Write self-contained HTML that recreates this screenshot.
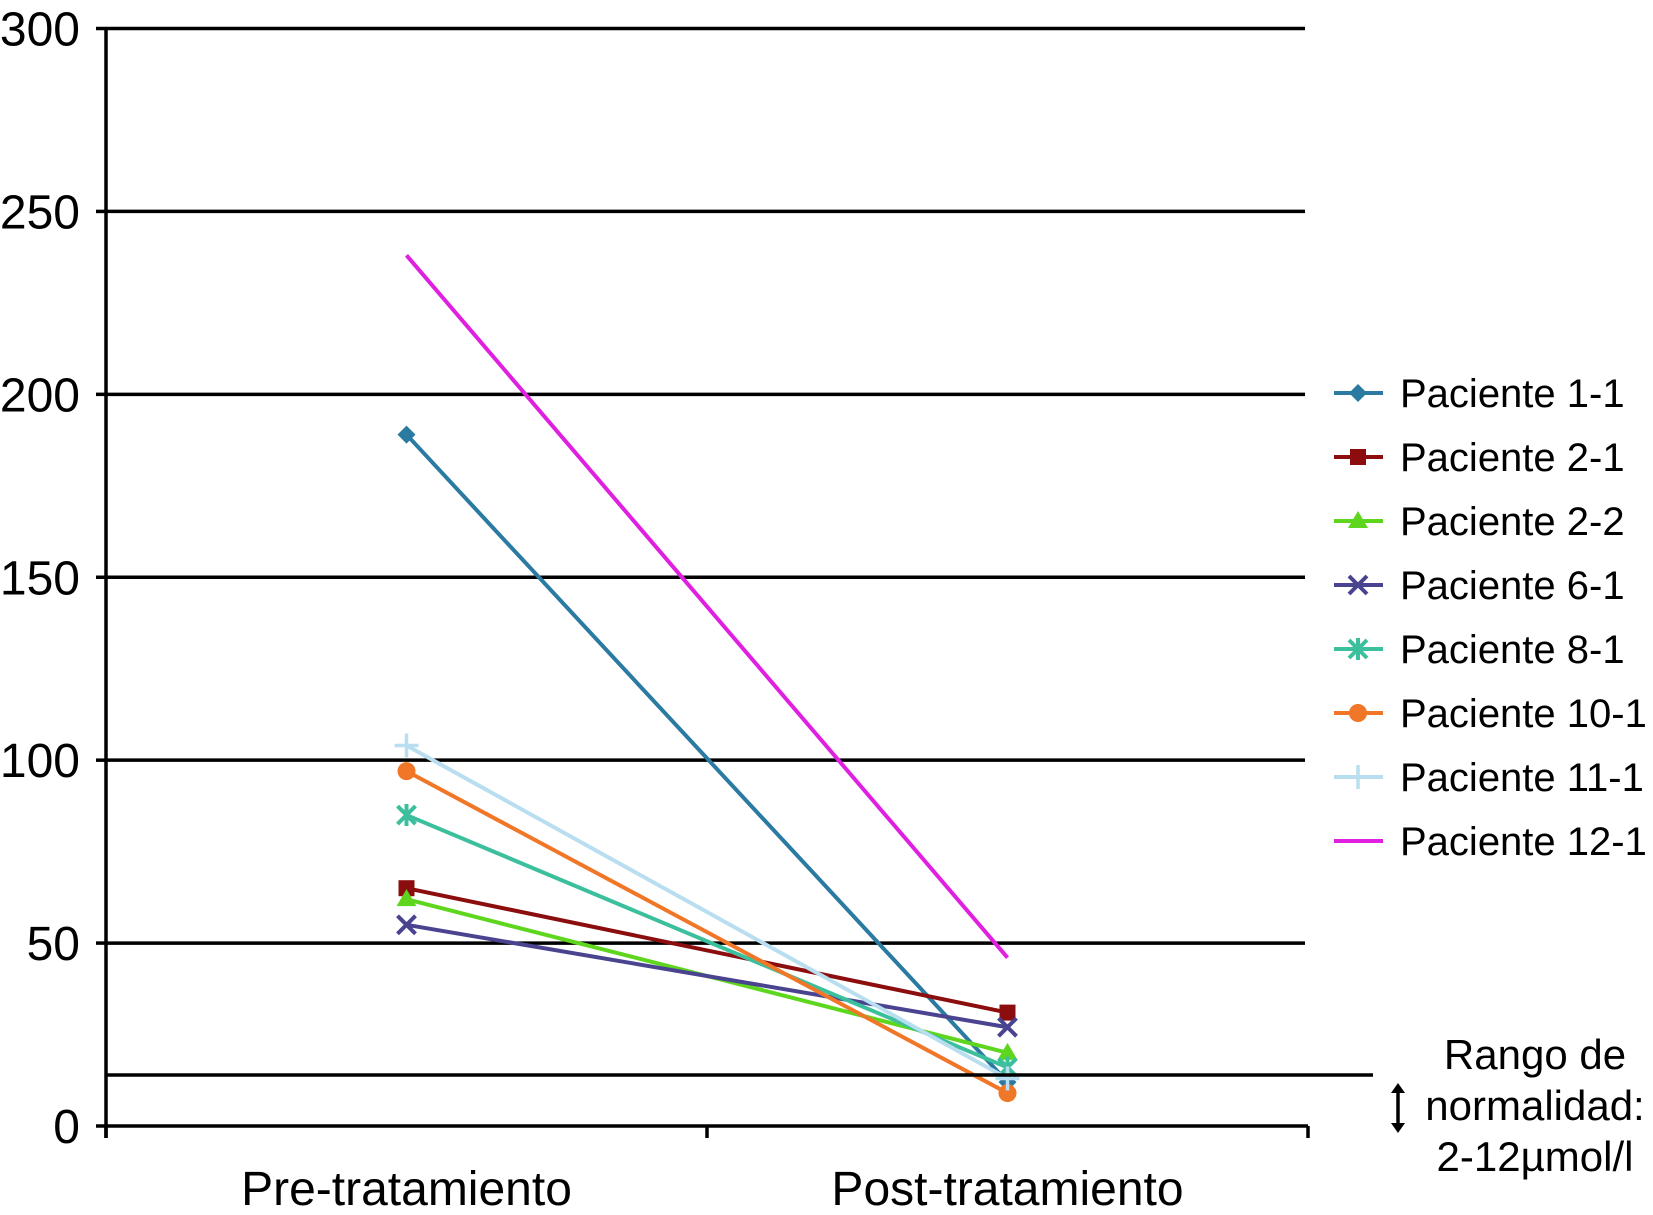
<!DOCTYPE html>
<html><head><meta charset="utf-8"><style>
body{margin:0;background:#fff;}
svg{display:block;font-family:"Liberation Sans",Arial,sans-serif;}
</style></head><body>
<svg id="chart" width="1653" height="1215" viewBox="0 0 1653 1215" xmlns="http://www.w3.org/2000/svg">
<g id="grid"></g>
<g id="yaxis"></g>
<g id="xaxis"></g>
<g id="series"></g>
<g id="legend"></g>
<g>
<line x1="106" y1="1075" x2="1373" y2="1075" stroke="#000" stroke-width="3.5"/>
<g>
<line x1="1398" y1="1090" x2="1398" y2="1126" stroke="#000" stroke-width="3.5"/>
<polygon points="1391,1093 1405,1093 1398,1083" fill="#000"/>
<polygon points="1391,1123 1405,1123 1398,1133" fill="#000"/>
</g>
<text x="1535" y="1069" font-size="42" text-anchor="middle">Rango de</text>
<text x="1535" y="1120" font-size="42" text-anchor="middle">normalidad:</text>
<text x="1535" y="1171" font-size="42" text-anchor="middle">2-12µmol/l</text>
</g>
</svg>
<script>
const categories = ["Pre-tratamiento", "Post-tratamiento"];
const seriesNames = ["Paciente 1-1","Paciente 2-1","Paciente 2-2","Paciente 6-1","Paciente 8-1","Paciente 10-1","Paciente 11-1","Paciente 12-1"];
const preValues = [189, 65, 62, 55, 85, 97, 104, 238];
const postValues = [12, 31, 20, 27, 16, 9, 13, 46];
const yTicks = [0, 50, 100, 150, 200, 250, 300];
const colors = ["#2a7aa2","#8b0d0d","#5fd61e","#4a4490","#3cbf9c","#f07628","#b8def0","#e020e0"];
const markers = ["diamond","square","triangle","x","star","circle","plus","none"];

const NS = "http://www.w3.org/2000/svg";
const X0 = 106, X1 = 1308, Y0 = 1126, Y1 = 28.5, YMAX = 300;
const yScale = v => Y0 - v / YMAX * (Y0 - Y1);
const xScale = i => X0 + (i + 0.5) * (X1 - X0) / categories.length;
function mk(tag, attrs, parent) { const e = document.createElementNS(NS, tag); for (const k in attrs) e.setAttribute(k, attrs[k]); parent.appendChild(e); return e; }

const grid = document.getElementById("grid"), yaxis = document.getElementById("yaxis"), xaxis = document.getElementById("xaxis");
yTicks.forEach(t => {
  const y = yScale(t);
  if (t > 0) {
    const g = mk("line", {x1: X0, x2: 1305, y1: y, y2: y, stroke: "#000", "stroke-width": 3.5}, grid);
    
    
  }
  mk("line", {x1: X0 - 10, x2: X0, y1: y, y2: y, stroke: "#000", "stroke-width": 3.5}, yaxis);
  const l = mk("text", {x: 80, y: y + 17, "font-size": 48, "text-anchor": "end"}, yaxis);
  l.textContent = t;
  
  
});
mk("line", {x1: X0, x2: X0, y1: Y1, y2: Y0 + 12, stroke: "#000", "stroke-width": 3.5}, yaxis);
mk("line", {x1: X0, x2: X1, y1: Y0, y2: Y0, stroke: "#000", "stroke-width": 3.5}, xaxis);
[0, 1, 2].forEach(i => { const x = X0 + i * (X1 - X0) / 2; mk("line", {x1: x, x2: x, y1: Y0, y2: Y0 + 12, stroke: "#000", "stroke-width": 3.5}, xaxis); });
categories.forEach((c, i) => {
  const t = mk("text", {x: xScale(i), y: 1205, "font-size": 48, "text-anchor": "middle"}, xaxis);
  t.textContent = c;
  
  
});

function drawMarker(type, x, y, color, parent) {
  const s = 9;
  if (type === "diamond") mk("polygon", {points: `${x},${y-s} ${x+s},${y} ${x},${y+s} ${x-s},${y}`, fill: color}, parent);
  else if (type === "square") mk("rect", {x: x-8, y: y-8, width: 16, height: 16, fill: color}, parent);
  else if (type === "triangle") mk("polygon", {points: `${x},${y-10} ${x+10},${y+7} ${x-10},${y+7}`, fill: color}, parent);
  else if (type === "circle") mk("circle", {cx: x, cy: y, r: 9, fill: color}, parent);
  else if (type === "x") { mk("path", {d: `M${x-s} ${y-s}L${x+s} ${y+s}M${x+s} ${y-s}L${x-s} ${y+s}`, stroke: color, "stroke-width": 4}, parent); }
  else if (type === "star") { mk("path", {d: `M${x-s} ${y-s}L${x+s} ${y+s}M${x+s} ${y-s}L${x-s} ${y+s}M${x} ${y-s-2}L${x} ${y+s+2}`, stroke: color, "stroke-width": 4}, parent); }
  else if (type === "plus") { mk("path", {d: `M${x-12} ${y}L${x+12} ${y}M${x} ${y-12}L${x} ${y+12}`, stroke: color, "stroke-width": 3.5}, parent); }
}

const series = document.getElementById("series");
seriesNames.forEach((n, i) => {
  const g = mk("g", {}, series);
  
  
  const xa = xScale(0), xb = xScale(1), ya = yScale(preValues[i]), yb = yScale(postValues[i]);
  mk("line", {x1: xa, y1: ya, x2: xb, y2: yb, stroke: colors[i], "stroke-width": 4}, g);
  drawMarker(markers[i], xa, ya, colors[i], g);
  drawMarker(markers[i], xb, yb, colors[i], g);
});

const legend = document.getElementById("legend");
seriesNames.forEach((n, i) => {
  const y = 393 + i * 64;
  const g = mk("g", {}, legend);
  
  
  mk("line", {x1: 1334, x2: 1383, y1: y, y2: y, stroke: colors[i], "stroke-width": 4}, g);
  drawMarker(markers[i], 1358, y, colors[i], g);
  const t = mk("text", {x: 1400, y: y + 14, "font-size": 40}, g);
  t.textContent = n;
});
</script>
</body></html>
